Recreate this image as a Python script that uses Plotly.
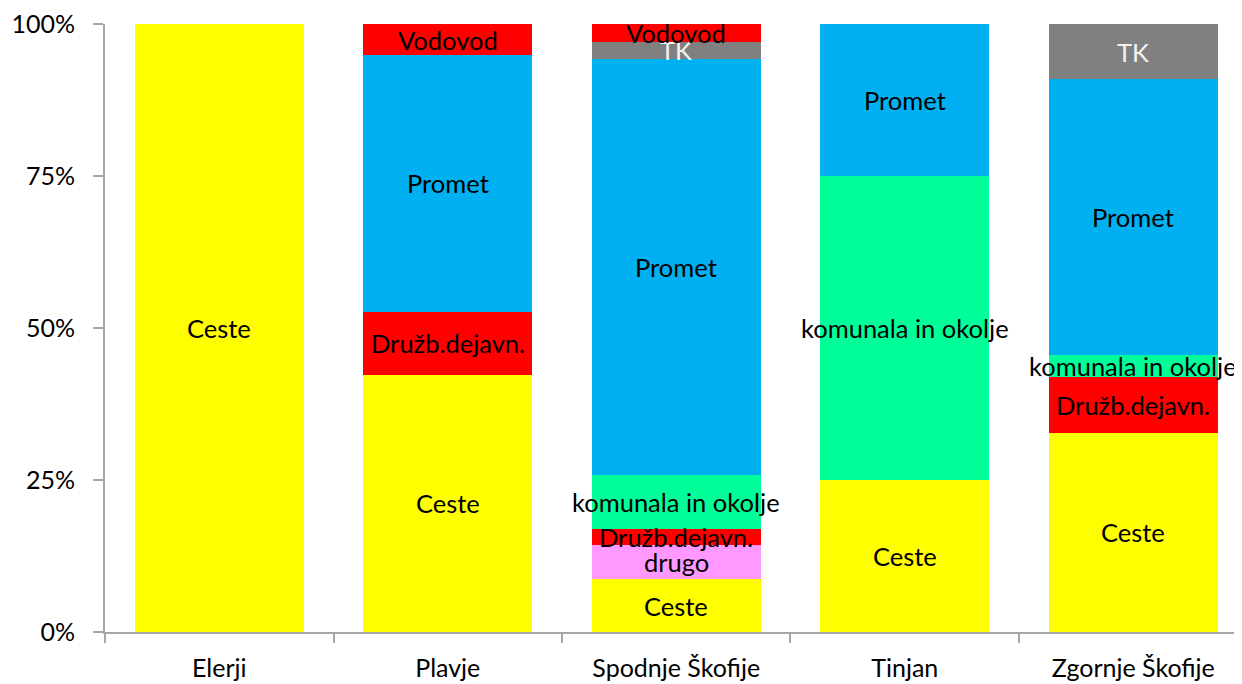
import plotly.graph_objects as go

categories = ["Elerji", "Plavje", "Spodnje Škofije", "Tinjan", "Zgornje Škofije"]

series_names = ["Ceste", "drugo", "Družb.dejavn.", "komunala in okolje", "Promet", "TK", "Vodovod"]
ceste = [100, 42.3, 8.7, 25, 32.8]
drugo = [0, 0, 5.6, 0, 0]
druzb = [0, 10.4, 2.7, 0, 9.1]
komunala = [0, 0, 8.8, 50, 3.7]
promet = [0, 42.2, 68.5, 25, 45.3]
tk = [0, 0, 2.7, 0, 9.1]
vodovod = [0, 5.1, 3.0, 0, 0]

colors = ["#FFFF00", "#FF99FF", "#FF0000", "#00FF99", "#00B0F0", "#808080", "#FF0000"]
text_colors = ["#000000", "#000000", "#000000", "#000000", "#000000", "#F2F2F2", "#000000"]
all_values = [ceste, drugo, druzb, komunala, promet, tk, vodovod]

FONT = "Lato, 'Open Sans', sans-serif"
LBL_SIZE = 25.5
TICK_SIZE = 25

fig = go.Figure()
cum = [0.0] * len(categories)
annotations = []
for name, vals, col, tcol in zip(series_names, all_values, colors, text_colors):
    yv = [v if v > 0 else None for v in vals]
    fig.add_trace(go.Bar(x=categories, y=yv, name=name, marker=dict(color=col, line=dict(width=0))))
    for i, v in enumerate(vals):
        if v > 0:
            annotations.append(dict(x=categories[i], y=cum[i] + v / 2, xref="x", yref="y",
                                    text=name, showarrow=False,
                                    font=dict(family=FONT, size=LBL_SIZE, color=tcol)))
        cum[i] += v

# page body has an 8px margin, so the figure is sized/offset to compensate
fig.update_layout(
    barmode="stack",
    bargap=0.26,
    width=1234, height=676,
    margin=dict(l=97, r=0, t=16, b=52, autoexpand=False),
    paper_bgcolor="white", plot_bgcolor="white",
    showlegend=False,
    annotations=annotations,
    font=dict(family=FONT, size=LBL_SIZE, color="#000000"),
)
fig.update_xaxes(
    range=[-0.5, 4.476],
    automargin=False,
    showline=True, linecolor="#A6A6A6", linewidth=2,
    ticks="outside", tickson="boundaries", ticklen=9, tickcolor="#A6A6A6", tickwidth=2,
    showgrid=False, zeroline=False,
    tickfont=dict(family=FONT, size=TICK_SIZE, color="#000000"),
    ticklabelstandoff=13,
    ticklabeloverflow="allow",
)
fig.update_yaxes(
    range=[0, 100],
    automargin=False,
    tickvals=[0, 25, 50, 75, 100], ticktext=["0%", "25%", "50%", "75%", "100%"],
    showline=True, linecolor="#A6A6A6", linewidth=2,
    ticks="outside", ticklen=10, tickcolor="#A6A6A6", tickwidth=2,
    showgrid=False, zeroline=False,
    tickfont=dict(family=FONT, size=TICK_SIZE, color="#000000"),
    ticklabelstandoff=13,
    ticklabeloverflow="allow",
)

fig.write_html("out.html")
